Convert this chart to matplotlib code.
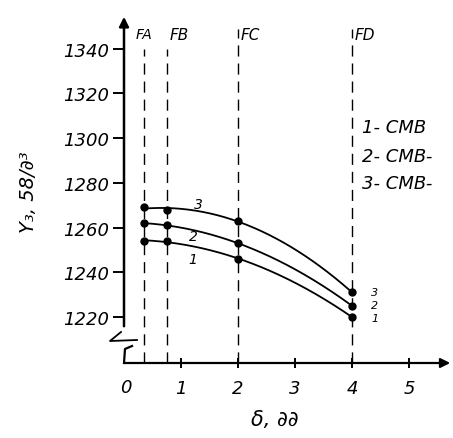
import matplotlib
matplotlib.use('Agg')
import matplotlib.pyplot as plt
import numpy as np

# thickness positions of the four samples and the three curves
positions = [0.35, 0.75, 2.0, 4.0]
sample_names = ['FA', 'FB', 'FC', 'FD']
curve1 = [1254, 1254, 1246, 1220]
curve2 = [1262, 1261, 1253, 1225]
curve3 = [1269, 1268, 1263, 1231]
curve_names = ['1', '2', '3']
legend_lines = ['1- CMB', '2- CMB-', '3- CMB-']
xticks = [0, 1, 2, 3, 4, 5]
yticks = [1220, 1240, 1260, 1280, 1300, 1320, 1340]

W, H = 453, 439
# pixel geometry of the drawn axes
x0_px, dx_px = 124, 57.0
y1220_px, dy_px = 318, 2.235
base_px, top_px = 364, 15

def px(xp, yp):
    # pixel (from top-left) -> data coordinates
    return (xp - x0_px) / dx_px, 1220 + (y1220_px - yp) / dy_px

fig = plt.figure(figsize=(W / 100, H / 100), dpi=100)
ax = fig.add_axes([x0_px / W, (H - base_px) / H, (W - x0_px) / W, (base_px - top_px) / H])
xmax = (W - x0_px) / dx_px
ybase = px(0, base_px)[1]
ytop = px(0, top_px)[1]
ax.set_xlim(0, xmax)
ax.set_ylim(ybase, ytop)
for s in ax.spines.values():
    s.set_visible(False)

font = dict(style='italic', color='black')

# axes with arrows
ax.annotate('', xy=(xmax, ybase), xytext=(-0.03, ybase),
            arrowprops=dict(arrowstyle='-|>', lw=1.6, color='black', mutation_scale=14),
            annotation_clip=False)
ax.annotate('', xy=(0, ytop), xytext=px(124, 330),
            arrowprops=dict(arrowstyle='-|>', lw=1.8, color='black', mutation_scale=14),
            annotation_clip=False)
# axis break
bx, by = zip(*[px(137, 341), px(110, 342), px(121, 333)])
ax.plot(bx, by, color='black', lw=1.3, clip_on=False)
bx, by = zip(*[px(124, 364), px(125, 350), px(132, 347)])
ax.plot(bx, by, color='black', lw=1.6, clip_on=False)

ax.set_xticks(xticks[1:])
ax.set_xticklabels([str(t) for t in xticks[1:]], fontsize=13, **font)
ax.set_yticks(yticks)
ax.set_yticklabels([str(t) for t in yticks], fontsize=13, **font)
ax.tick_params(axis='x', direction='inout', length=7, width=1.4, pad=8)
ax.tick_params(axis='y', direction='out', length=8, width=1.4, pad=3)
ax.text(*px(126, 388), '0', fontsize=13, ha='center', va='center', clip_on=False, **font)

# dashed sample lines
for x, name in zip(positions, sample_names):
    top = px(0, 50)[1] if x < 1 else px(0, 30)[1]
    ax.plot([x, x], [ybase, top], color='black', lw=1.0, ls=(0, (8, 5)), clip_on=False)
    if name == 'FA':
        ax.text(x, px(0, 35)[1], name, fontsize=10, ha='center', va='center', **font)
    else:
        ax.text(x + 0.05, px(0, 36)[1], name, fontsize=11, ha='left', va='center', **font)

# curves: smooth quadratic trend through the measured points
xs = np.linspace(positions[0], positions[-1], 200)
for ys in [curve1, curve2, curve3]:
    coef = np.polyfit(positions, ys, 2)
    ax.plot(xs, np.polyval(coef, xs), color='black', lw=1.3)
    ax.plot(positions, ys, 'o', color='black', ms=5)

# curve numbers
for name, (xp, yp) in zip(curve_names, [(193, 260), (193, 237), (198, 205)]):
    ax.text(*px(xp, yp), name, fontsize=10, ha='center', va='center', **font)
for name, yp in zip(curve_names, [319, 306, 293]):
    ax.text(*px(375, yp), name, fontsize=8, ha='center', va='center', **font)

# legend text
for line, yp in zip(legend_lines, [128, 157, 184]):
    ax.text(*px(362, yp), line, fontsize=13, ha='left', va='center', clip_on=False, **font)

# axis labels
ax.text(*px(28, 192), 'Y₃, 58/∂³', fontsize=14, rotation=90, ha='center', va='center', clip_on=False, **font)
ax.text(*px(275, 420), 'δ, ∂∂', fontsize=15, ha='center', va='center', clip_on=False, **font)

fig.savefig('out.png', dpi=100)
